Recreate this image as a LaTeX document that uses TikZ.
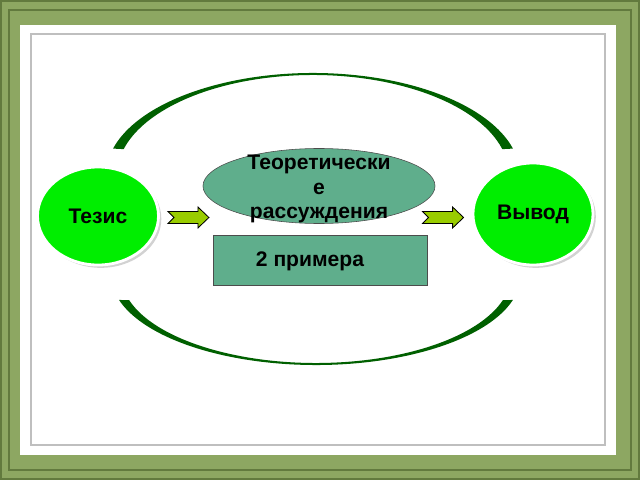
\documentclass[tikz,border=0pt]{standalone}
\usepackage{fontspec}
\setmainfont{Liberation Sans}
\usepackage{tikz}
\usetikzlibrary{shapes.geometric, calc, shadows}
\definecolor{framegreen}{RGB}{141,167,98}
\definecolor{framedark}{RGB}{98,122,62}
\definecolor{ballgreen}{RGB}{0,238,0}
\definecolor{seagreen}{RGB}{95,174,140}
\definecolor{arcgreen}{RGB}{0,96,0}
\definecolor{arrowgreen}{RGB}{153,204,0}
\tikzstyle{ball} = [ellipse,fill=ballgreen,draw=white,line width=2pt,inner sep=0pt,drop shadow={opacity=0.35,shadow xshift=2pt,shadow yshift=-2pt},font=\bfseries\fontsize{15}{18}\selectfont]
\tikzstyle{box} = [fill=seagreen,draw=black!70,thin]
\tikzstyle{boxtext} = [font=\bfseries\fontsize{15}{17.4}\selectfont,align=center]
\tikzstyle{blockarrow} = [fill=arrowgreen,draw=black,semithick,line join=miter]
\tikzstyle{band} = [fill=arcgreen]

\begin{document}
\begin{tikzpicture}[x=0.025cm,y=-0.025cm]
	\useasboundingbox (0,0) rectangle (640,480);
	
	% Frame:
	% green border, then the white sheet with its grey edge
	\fill[framegreen] (0,0) rectangle (640,480);
	\draw[framedark, line width=1pt] (1,1) rectangle (639,479);
	\draw[framedark, line width=1pt] (9,10) rectangle (631,470);
	\fill[white] (20,25) rectangle (616,455);
	\draw[black!25, line width=1.6pt] (31,34) rectangle (605,445);
	
	% Nodes:
	\node[ball, minimum width=3.025cm, minimum height=2.45cm] (tezis) at (98,216) {Тезис};
	\node[ball, minimum width=3cm, minimum height=2.55cm] (vyvod) at (533,214) {Вывод};
	
	\node[box, ellipse, minimum width=5.8cm, minimum height=1.875cm] (theory) at (319,186) {};
	\node[boxtext] (theorytext) at (319,189) {Теоретически\\е\\рассуждения};
	
	\node[box, minimum width=5.35cm, minimum height=1.25cm] (examples) at (320,260) {};
	\node[boxtext] (examplestext) at (310,261) {2 примера};
	
	% Block arrows:
	% the same notched arrow, shifted next to the circles
	\draw[blockarrow, shift={($(tezis.east)+(8,1.5)$)}] (0,-6) -- (30,-6) -- (30,-10.5) -- (41,0) -- (30,10.5) -- (30,6) -- (0,6) -- (6,0) -- cycle;
	\draw[blockarrow, shift={($(vyvod.west)+(-49,3.5)$)}] (0,-6) -- (30,-6) -- (30,-10.5) -- (41,0) -- (30,10.5) -- (30,6) -- (0,6) -- (6,0) -- cycle;
	
	% Bands:
	% upper and lower crescents, outer arc out and inner arc back
	\fill[band] (313,175) ++(195:207 and 102) arc[start angle=195, end angle=345, x radius=207, y radius=102]
		-- ($(313,175)+(345:196 and 100)$) arc[start angle=345, end angle=195, x radius=196, y radius=100] -- cycle;
	\fill[band] (316,275) ++(16.1:205 and 90) arc[start angle=16.1, end angle=163.9, x radius=205, y radius=90]
		-- ($(316,275)+(163.4:195 and 88)$) arc[start angle=163.4, end angle=16.6, x radius=195, y radius=88] -- cycle;
	
\end{tikzpicture}
\end{document}
